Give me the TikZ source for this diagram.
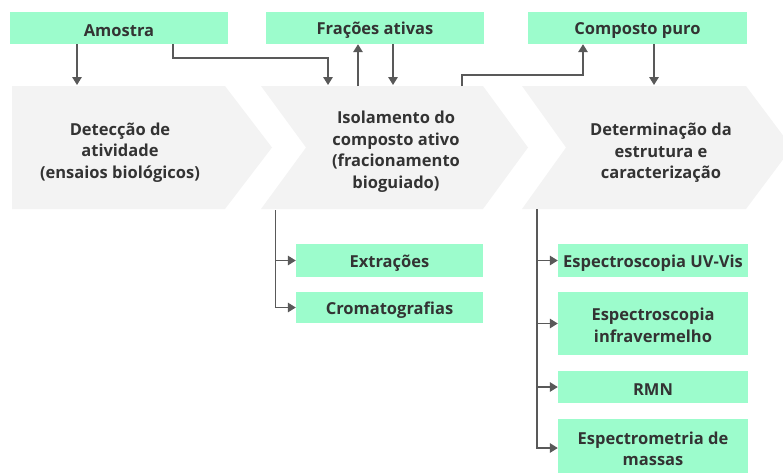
\documentclass[tikz,border=0pt]{standalone}
\usepackage{fontspec}
\setmainfont{Open Sans}
\usetikzlibrary{arrows.meta}
\definecolor{mint}{HTML}{9CFCCC}
\definecolor{chev}{HTML}{F3F3F3}
\definecolor{txt}{HTML}{333333}
\definecolor{arrc}{HTML}{595959}
\begin{document}
\begin{tikzpicture}[x=1pt,y=-1pt,
  gbox/.style={fill=mint, inner sep=0pt},
  btext/.style={text=txt, font=\bfseries\fontsize{16.5}{21.5}\selectfont, inner sep=0pt, align=center},
  ctext/.style={text=txt, font=\bfseries\fontsize{16.5}{21.5}\selectfont, align=center, inner sep=0pt},
  chevfill/.style={fill=chev},
  conn/.style={draw=arrc, line width=1.5pt, -{Triangle[width=9.5pt,length=8pt]}},
  ]
\useasboundingbox (0,0) rectangle (783,472);
% chevrons
\fill[chevfill] (12,86) -- (225,86) -- (272,147.5) -- (225,209) -- (12,209) -- cycle;
\fill[chevfill] (261,86) -- (483,86) -- (528,147.5) -- (483,209) -- (261,209) -- (306,147.5) -- cycle;
\fill[chevfill] (522,86) -- (746,86) -- (792,147.5) -- (746,209) -- (522,209) -- (566,147.5) -- cycle;
\node[ctext] (det) at (120,152.5) {Detecção de\\atividade\\(ensaios biológicos)};
\node[ctext] (iso) at (396,151.5) {Isolamento do\\composto ativo\\(fracionamento\\bioguiado)};
\node[ctext] (est) at (661,153) {Determinação da\\estrutura e\\caracterização};
% top boxes
\node[gbox, minimum width=218pt, minimum height=32pt] (amostra) at (119,28) {};
\node[gbox, minimum width=218pt, minimum height=32pt] (fracoes) at (375,28) {};
\node[gbox, minimum width=219pt, minimum height=32pt] (composto) at (637.5,28) {};
% bottom boxes
\node[gbox, minimum width=187pt, minimum height=33pt] (extr) at (389.5,260.5) {};
\node[gbox, minimum width=187pt, minimum height=31pt] (crom) at (389.5,307.5) {};
\node[gbox, minimum width=190pt, minimum height=33pt] (uv) at (653,260.5) {};
\node[gbox, minimum width=190pt, minimum height=63pt] (ir) at (653,323.5) {};
\node[gbox, minimum width=190pt, minimum height=32pt] (rmn) at (653,387) {};
\node[gbox, minimum width=190pt, minimum height=58pt] (ms) at (653,448) {};
% box texts
\node[btext] (tamostra) at ([yshift=-2.5pt]amostra.center) {Amostra};
\node[btext] (tfracoes) at ([yshift=-2.5pt]fracoes.center) {Frações ativas};
\node[btext] (tcomposto) at ([yshift=-2.5pt]composto.center) {Composto puro};
\node[btext] (textr) at ([yshift=-2.5pt]extr.center) {Extrações};
\node[btext] (tcrom) at ([yshift=-2.5pt]crom.center) {Cromatografias};
\node[btext] (tuv) at ([yshift=-2.5pt]uv.center) {Espectroscopia UV-Vis};
\node[btext] (tir) at ([yshift=-2pt]ir.center) {Espectroscopia\\infravermelho};
\node[btext] (trmn) at ([yshift=-2.5pt]rmn.center) {RMN};
\node[btext] (tms) at ([yshift=-1pt]ms.center) {Espectrometria de\\massas};
% coordinates on chevrons
\coordinate (c1in) at (77,85);
\coordinate (c2inA) at (328,85);
\coordinate (c2outF) at (358,86);
\coordinate (c2inF) at (393,85);
\coordinate (c2outC) at (462,86);
\coordinate (c3in) at (654,85);
\coordinate (c2bot) at (275.5,210);
\coordinate (c3bot) at (537,209);
% top connectors
\draw[conn] (amostra.south -| c1in) -- (c1in);
\draw[conn] (amostra.south -| 173,0) -- (173,58) -| (c2inA);
\draw[conn] (c2outF) -- (fracoes.south -| c2outF);
\draw[conn] (fracoes.south -| c2inF) -- (c2inF);
\draw[conn] (c2outC) -- (462,75) -| (composto.south -| 583,0);
\draw[conn] (composto.south -| c3in) -- (c3in);
% bottom connectors
\draw[conn] (c2bot) |- (extr.west);
\draw[conn] (c2bot) |- (crom.west);
\draw[conn] (c3bot) |- (uv.west);
\draw[conn] (c3bot) |- (ir.west);
\draw[conn] (c3bot) |- (rmn.west);
\draw[conn] (c3bot) |- (ms.west);
\end{tikzpicture}
\end{document}
